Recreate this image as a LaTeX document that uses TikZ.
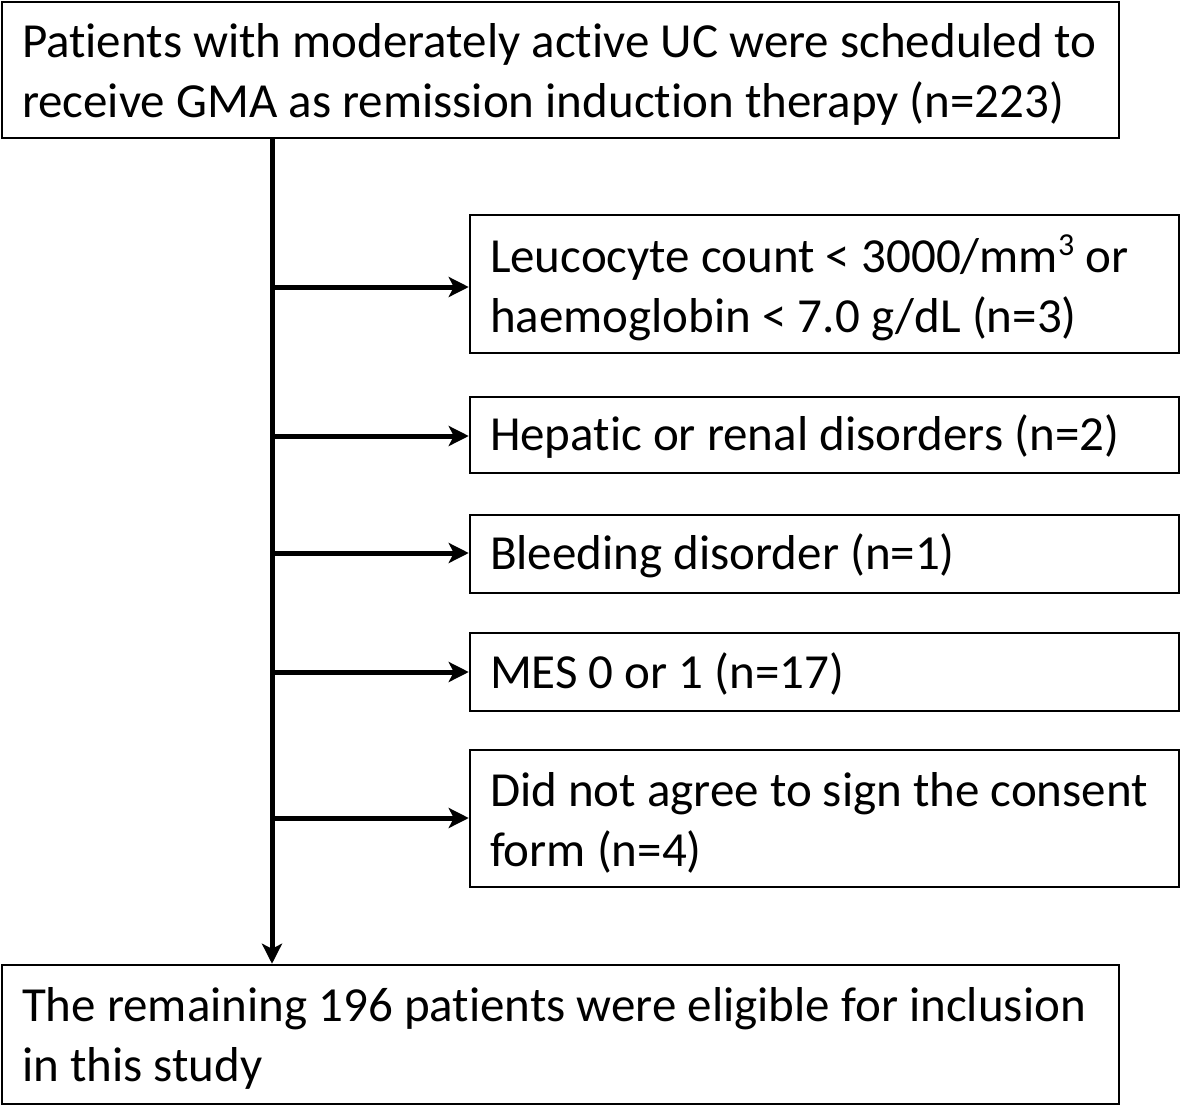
\documentclass[tikz,border=0pt]{standalone}
\usepackage{fontspec}
\setmainfont[RawFeature=-liga]{Carlito}
\usetikzlibrary{arrows.meta}
\newcommand{\supthree}{\raisebox{0.36em}{\fontsize{32}{32}\selectfont 3}}
\begin{document}
\begin{tikzpicture}[x=1pt,y=-1pt,
  box/.style={draw,line width=2.5pt,inner sep=0pt},
  txt/.style={inner sep=0pt,align=flush left,font=\fontsize{49}{60}\selectfont},
  arr/.style={line width=5pt,-{Stealth[length=20pt,width=20pt,inset=5pt]}}]
\useasboundingbox (0,0) rectangle (1181,1106);
\node[box,minimum width=1117pt,minimum height=136pt] (top) at (560.5,70) {};
\node[txt,text width=1077pt] (topt) at ([yshift=-4pt]top.center)
  {\mbox{Patients with moderately active UC were scheduled to}\\\mbox{receive GMA as remission induction therapy (n=223)}};
\node[box,minimum width=709pt,minimum height=138pt] (b2) at (824.5,284) {};
\node[txt,text width=669pt] (b2t) at ([yshift=-4pt]b2.center)
  {\mbox{Leucocyte count < 3000/mm\supthree{} or}\\haemoglobin < 7.0 g/dL (n=3)};
\node[box,minimum width=709pt,minimum height=76pt] (b3) at (824.5,435) {};
\node[txt,text width=669pt] (b3t) at ([yshift=-2pt]b3.center)
  {Hepatic or renal disorders (n=2)};
\node[box,minimum width=709pt,minimum height=78pt] (b4) at (824.5,554) {};
\node[txt,text width=669pt] (b4t) at ([yshift=-2pt]b4.center)
  {Bleeding disorder (n=1)};
\node[box,minimum width=709pt,minimum height=78pt] (b5) at (824.5,672) {};
\node[txt,text width=669pt] (b5t) at ([yshift=-2pt]b5.center)
  {MES 0 or 1 (n=17)};
\node[box,minimum width=709pt,minimum height=137pt] (b6) at (824.5,818.5) {};
\node[txt,text width=669pt] (b6t) at ([yshift=-4pt]b6.center)
  {\mbox{Did not agree to sign the consent}\\form (n=4)};
\node[box,minimum width=1117pt,minimum height=139pt] (bot) at (560.5,1034.5) {};
\node[txt,text width=1077pt] (bott) at ([yshift=-4pt]bot.center)
  {\mbox{The remaining 196 patients were eligible for inclusion}\\in this study};
\coordinate (t0) at (272,138);
\coordinate (k2) at (272,287);
\coordinate (k3) at (272,436);
\coordinate (k4) at (272,553);
\coordinate (k5) at (272,672);
\coordinate (k6) at (272,818);
\draw[arr] (t0) -- (t0 |- bot.north);
\draw[arr] (k2) -- (k2 -| b2.west);
\draw[arr] (k3) -- (k3 -| b3.west);
\draw[arr] (k4) -- (k4 -| b4.west);
\draw[arr] (k5) -- (k5 -| b5.west);
\draw[arr] (k6) -- (k6 -| b6.west);
\end{tikzpicture}
\end{document}
